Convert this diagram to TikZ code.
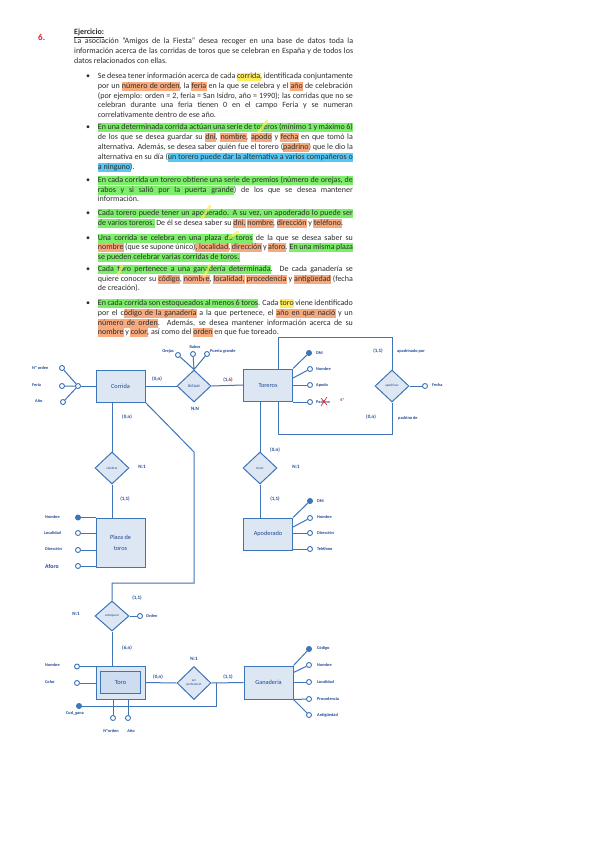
\documentclass[tikz,border=0pt]{standalone}
\usepackage{fontspec}
\setmainfont{Carlito}
\usetikzlibrary{shapes.geometric,calc}
\definecolor{lc}{RGB}{62,116,184}
\definecolor{fc}{RGB}{221,231,243}
\definecolor{fc2}{RGB}{205,220,238}
\definecolor{tc}{RGB}{30,72,150}
\definecolor{hlg}{RGB}{125,238,105}
\definecolor{hlo}{RGB}{246,170,125}
\definecolor{hly}{RGB}{255,238,90}
\definecolor{hlc}{RGB}{85,200,245}
\definecolor{redmark}{RGB}{230,30,30}
\definecolor{txtc}{RGB}{45,45,45}
\def\hlcol{hlg}
\newcommand\hlstrut{\rule[-2.1pt]{0pt}{8.2pt}}
\newcommand\HLword[1]{\kern-0.4pt{\fboxsep=0.4pt\colorbox{\hlcol}{\hlstrut#1}}\kern-0.4pt}
\newcommand\HLsp{{\color{\hlcol}\leaders\vrule height 6.5pt depth 2.5pt\hskip\fontdimen2\font plus\fontdimen3\font minus\fontdimen4\font}}
\def\HLdo#1 #2\HLstop{\HLword{#1}\HLnext#2\HLstop}
\def\HLnext#1\HLstop{\ifx\relax#1\relax\else\HLsp\HLdo#1\HLstop\fi}
\newcommand\HG[1]{{\def\hlcol{hlg}\HLdo#1 \HLstop}}
\newcommand\HO[1]{{\def\hlcol{hlo}\HLdo#1 \HLstop}}
\newcommand\HY[1]{{\def\hlcol{hly}\HLdo#1 \HLstop}}
\newcommand\HC[1]{{\def\hlcol{hlc}\HLdo#1 \HLstop}}
\newcommand\PL[3]{\node[txt] (#1) at (74,#2) {\makebox[279pt][s]{#3}};}
\newcommand\BL[3]{\node[txt] (#1) at (97.7,#2) {\makebox[255pt][s]{#3}};}
\newcommand\BLG[3]{\node[txt] (#1) at (97.3,#2) {{\fboxsep=0.4pt\colorbox{hlg}{\hlstrut\makebox[255pt][s]{#3}}}};}
\newcommand\LL[4]{\node[txt] (#1) at (#2,#3) {#4};}
\newcommand\BU[2]{\node[txt,anchor=base] (#1) at (88,#2) {•};}
\tikzset{
  txt/.style={anchor=base west, inner sep=0, font=\fontsize{8}{10}\selectfont, text=txtc},
  ln/.style={draw=lc, line width=1pt},
  ent/.style={draw=lc, fill=fc, line width=1pt, minimum width=49pt, minimum height=32pt, inner sep=0, font=\fontsize{6.3}{7}\selectfont, text=tc},
  rel/.style={diamond, draw=lc, fill=fc, line width=1pt, minimum width=34pt, minimum height=32pt, inner sep=0, font=\fontsize{3.4}{3.8}\selectfont, text=tc},
  att/.style={circle, draw=lc, fill=white, line width=0.9pt, minimum size=5pt, inner sep=0},
  katt/.style={att, fill=lc},
  lab/.style={font=\fontsize{4.3}{4.8}\selectfont\bfseries, text=tc, inner sep=0},
  card/.style={font=\fontsize{5}{5.5}\selectfont\bfseries, text=tc, inner sep=0},
  ymark/.style={draw=hly, line width=2.6pt, line cap=round, opacity=0.75},
}
\begin{document}
\begin{tikzpicture}[x=1pt,y=-1pt]
\useasboundingbox (0,0) rectangle (600,848);
\fill[white] (0,0) rectangle (600,848);

% ---------------- text ----------------
\node[txt, font=\fontsize{9}{10}\selectfont\bfseries, text=redmark] (six) at (38,41) {6.};
\LL{ej}{74}{34.6}{\textbf{\underline{Ejercicio:}}}
\PL{p1}{44}{La asociación "Amigos de la Fiesta" desea recoger en una base de datos toda la}
\PL{p2}{54}{información acerca de las corridas de toros que se celebran en España y de todos los}
\LL{p3}{74}{64}{datos relacionados con ellas.}

\BU{u1}{79}
\BL{b1a}{79}{Se desea tener información acerca de cada \HY{corrida}, identificada conjuntamente}
\BL{b1b}{88.6}{por un \HO{número de orden}, la \HO{feria} en la que se celebra y el \HO{año} de celebración}
\BL{b1c}{98.2}{(por ejemplo: orden = 2, feria = San Isidro, año = 1990); las corridas que no se}
\BL{b1d}{107.8}{celebran durante una feria tienen 0 en el campo Feria y se numeran}
\LL{b1e}{97.7}{117.4}{correlativamente dentro de ese año.}

\BU{u2}{129.3}
\BLG{b2a}{129.3}{En una determinada corrida actúan una serie de toreros (mínimo 1 y máximo 6)}
\BL{b2b}{139.3}{de los que se desea guardar su \HO{dni}, \HO{nombre}, \HO{apodo} y \HO{fecha} en que tomó la}
\BL{b2c}{149.3}{alternativa. Además, se desea saber quién fue el torero (\HO{padrino}) que le dio la}
\BL{b2d}{159.3}{alternativa en su día (\HC{un torero puede dar la alternativa a varios compañeros o}}
\LL{b2e}{97.7}{169.1}{\HC{a ninguno}).}

\BU{u3}{182.3}
\BLG{b3a}{182.3}{En cada corrida un torero obtiene una serie de premios (número de orejas, de}
\BL{b3b}{192.3}{\HG{rabos y si salió por la puerta grande}) de los que se desea mantener}
\LL{b3c}{97.7}{201.8}{información.}

\BU{u4}{215.6}
\BLG{b4a}{215.6}{Cada torero puede tener un apoderado. A su vez, un apoderado lo puede ser}
\LL{b4b}{97.7}{225.1}{\HG{de varios toreros.} De él se desea saber su \HO{dni,} \HO{nombre}, \HO{dirección} y \HO{teléfono}.}

\BU{u5}{240}
\BL{b5a}{240}{\HG{Una corrida se celebra en una plaza de toros} de la que se desea saber su}
\BL{b5b}{249.5}{\HO{nombre} (que se supone único)\HO{, localidad}, \HO{dirección} y \HO{aforo}. \HG{En una misma plaza}}
\LL{b5c}{97.7}{259}{\HG{se pueden celebrar varias corridas de toros.}}

\BU{u6}{271.6}
\BL{b6a}{271.6}{\HG{Cada toro pertenece a una ganadería determinada}. De cada ganadería se}
\BL{b6b}{281.3}{quiere conocer su \HO{código}, \HO{nombre}, \HO{localidad,} \HO{procedencia} y \HO{antigüedad} (fecha}
\LL{b6c}{97.7}{290.8}{de creación).}

\BU{u7}{305}
\BL{b7a}{305}{\HG{En cada corrida son estoqueados al menos 6 toros}. Cada \HY{toro} viene identificado}
\BL{b7b}{315.3}{por el c\HO{ódigo de la ganadería} a la que pertenece, el \HO{año en que nació} y un}
\BL{b7c}{325}{\HO{número de orden}. Además, se desea mantener información acerca de su}
\LL{b7d}{97.7}{334.6}{\HO{nombre} y \HO{color}, así como del \HO{orden} en que fue toreado.}

% yellow pen marks
\draw[ymark] (258,133) -- (267,121);
\draw[ymark] (202,218) -- (210,206);
\draw[ymark] (229,238) -- (238,232);
\draw[ymark] (118,275) -- (122,266);
\draw[ymark] (204,277) -- (210,265);

% ---------------- diagram ----------------
\node[ent] (corrida) at (120.5,386) {Corrida};
\node[rel, font=\fontsize{4.6}{5}\selectfont] (actuar) at (194,386) {Actuar};
\node[ent] (toreros) at (268,385) {Toreros};
\node[rel] (apadrinar) at (392,386) {apadrinar};
\node[rel] (celebrar) at (112,468) {celebrar};
\node[rel] (tener) at (260,468) {tener};
\node[ent, minimum height=49pt, align=center] (plaza) at (120.5,542.5) {Plaza de\\[4pt]toros};
\node[ent] (apoderado) at (268,534) {Apoderado};
\node[rel, minimum height=30pt] (estoquear) at (112,616) {estoquear};
\node[ent, minimum height=33pt] (toro) at (120.5,682.5) {};
\node[draw=lc, fill=fc2, line width=1pt, minimum width=40pt, minimum height=22pt, inner sep=0, font=\fontsize{6.3}{7}\selectfont, text=tc] (toroin) at (120.5,682.5) {Toro};
\node[rel, minimum height=33pt, align=center] (pertenecer) at (194,683) {ser\\[1pt]pertenecer};
\node[ent, minimum height=33pt] (ganaderia) at (268.5,682.5) {Ganadería};

% Corrida attributes
\node[att] (cj) at (78,386) {};
\node[att] (cnum) at (62,368) {};
\node[att] (cfer) at (62,386) {};
\node[att] (cano) at (63,402) {};
\draw[ln] (cj) -- (corrida.west);
\draw[ln] (cnum) -- (cj) (cfer) -- (cj) (cano) -- (cj);
\node[lab, anchor=west] (lcnum) at (32,368) {Nº orden};
\node[lab, anchor=west] (lcfer) at (32,385) {Feria};
\node[lab, anchor=west] (lcano) at (35,401) {Año};

% Actuar
\draw[ln] (corrida.east) -- (actuar.west);
\draw[ln] (actuar.east) -- (toreros.west);
\node[att] (aor) at (178,355) {};
\node[att] (ara) at (193,354) {};
\node[att] (apu) at (207,354) {};
\draw[ln] (aor) -- (actuar.north) (ara) -- (actuar.north) (apu) -- (actuar.north);
\node[lab, anchor=east] (laor) at (174,351) {Orejas};
\node[lab, anchor=south] (lara) at (195,348.5) {Rabos};
\node[lab, anchor=west] (lapu) at (210,351) {Puerta grande};
\node[card] (c1) at (157,379) {(0,n)};
\node[card] (c2) at (228,380) {(1,\textcolor{redmark}{6})};
\node[card] (c3) at (195,409) {N:N};

% Toreros attributes
\node[katt] (tdni) at (309,353) {};
\node[att] (tnom) at (310,369) {};
\node[att] (tapo) at (310,385) {};
\node[att] (tpad) at (310,402) {};
\draw[ln] (toreros.north east) -- (tdni);
\draw[ln] ([yshift=7pt]toreros.east) -- (tnom);
\draw[ln] (toreros.east) -- (tapo);
\draw[ln] (tpad -| toreros.east) -- (tpad);
\node[lab, anchor=west] (ltdni) at (316,353) {DNI};
\node[lab, anchor=west] (ltnom) at (316,369) {Nombre};
\node[lab, anchor=west] (ltapo) at (316,385) {Apodo};
\node[lab, anchor=west] (ltpad) at (316,402) {Padrino};
\draw[redmark, line width=0.6pt] (321,398) -- (327,405) (327,397) -- (321,406);
\node[lab, text=redmark, anchor=west] (l4a) at (340,400) {4ª};

% apadrinar loop
\draw[ln] ([xshift=10pt]toreros.north) -- ++(0,-31) -| (apadrinar.north);
\draw[ln] ([xshift=10pt]toreros.south) -- ++(0,33) -| (apadrinar.south);
\node[att] (fecha) at (425,386) {};
\draw[ln] (apadrinar.east) -- (fecha);
\node[lab, anchor=west] (lfecha) at (432,385) {Fecha};
\node[card] (c4) at (378,351) {(1,1)};
\node[lab, anchor=west] (lapby) at (397,351) {apadrinado por};
\node[card] (c5) at (371,417) {(0,n)};
\node[lab, anchor=west] (lpade) at (398,418) {padrino de};

% celebrar / Plaza
\draw[ln] (celebrar.north) -- (celebrar.north |- corrida.south);
\draw[ln] (celebrar.south) -- (celebrar.south |- plaza.north);
\node[card] (c6) at (127,417) {(0,n)};
\node[card] (c7) at (142,467) {N:1};
\node[card] (c8) at (125,499) {(1,1)};
\node[katt] (pnom) at (78,517.5) {};
\node[att] (ploc) at (78,533) {};
\node[att] (pdir) at (78,550) {};
\node[att] (pafo) at (78,566) {};
\draw[ln] (pnom) -- (pnom -| plaza.west);
\draw[ln] (ploc) -- (ploc -| plaza.west);
\draw[ln] (pdir) -- (pdir -| plaza.west);
\draw[ln] (pafo) -- (pafo -| plaza.west);
\node[lab, anchor=west] (lpnom) at (45,517) {Nombre};
\node[lab, anchor=west] (lploc) at (44,533) {Localidad};
\node[lab, anchor=west] (lpdir) at (45,549) {Dirección};
\node[lab, anchor=west, font=\fontsize{5.8}{6}\selectfont\bfseries] (lpafo) at (45,566) {Aforo};

% tener / Apoderado
\draw[ln] (tener.north) -- (tener.north |- toreros.south);
\draw[ln] (tener.south) -- (tener.south |- apoderado.north);
\node[card] (c9) at (275,450) {(0,n)};
\node[card] (c10) at (296,467) {N:1};
\node[card] (c11) at (275,499) {(1,1)};
\node[katt] (adni) at (310,501) {};
\node[att] (anom) at (310,518) {};
\node[att] (adir) at (310,533) {};
\node[att] (atel) at (310,549) {};
\draw[ln] (apoderado.north east) -- (adni);
\draw[ln] ([yshift=7pt]apoderado.east) -- (anom);
\draw[ln] (adir -| apoderado.east) -- (adir);
\draw[ln] (atel -| apoderado.east) -- (atel);
\node[lab, anchor=west] (ladni) at (317,501) {DNI};
\node[lab, anchor=west] (lanom) at (317,517) {Nombre};
\node[lab, anchor=west] (ladir) at (317,533) {Dirección};
\node[lab, anchor=west] (latel) at (317,549) {Teléfono};

% estoquear
\coordinate (k1) at (194,452);
\coordinate (k2) at (194,583);
\draw[ln] (corrida.south east) -- (k1) -- (k2) -| (estoquear.north);
\draw[ln] (estoquear.south) -- (estoquear.south |- toro.north);
\node[att] (eord) at (140,616) {};
\draw[ln] (estoquear.east) -- (eord);
\node[lab, anchor=west] (leord) at (146,615.5) {Orden};
\node[card] (c12) at (76,614) {N:1};
\node[card] (c13) at (137,598) {(1,1)};
\node[card] (c14) at (127,648) {(6,n)};

% Toro attributes
\node[att] (rnom) at (77,666.5) {};
\node[att] (rcol) at (77,683) {};
\draw[ln] (rnom) -- (rnom -| toro.west);
\draw[ln] (rcol) -- (rcol -| toro.west);
\node[lab, anchor=west] (lrnom) at (45,665) {Nombre};
\node[lab, anchor=west] (lrcol) at (45,682) {Color};
\node[katt] (rid) at (79,706) {};
\coordinate (k3) at (216,706);
\draw[ln] (rid) -- (k3) -- (k3 |- pertenecer.east);
\node[lab] (lrid) at (75,713.5) {Cod\_gana};
\node[att] (rnum) at (113,718) {};
\node[att] (rano) at (128,718) {};
\draw[ln] (rnum) -- (rnum |- toro.south);
\draw[ln] (rano) -- (rano |- toro.south);
\node[lab] (lrnum) at (111,731) {Nºorden};
\node[lab] (lrano) at (131,731) {Año};

% pertenecer / Ganaderia
\draw[ln] (toro.east) -- (pertenecer.west);
\draw[ln] (pertenecer.east) -- (ganaderia.west);
\node[card] (c15) at (194,659) {N:1};
\node[card] (c16) at (158,677) {(0,n)};
\node[card] (c17) at (228,677) {(1,1)};
\node[katt] (gcod) at (309,649) {};
\node[att] (gnom) at (309,665) {};
\node[att] (gloc) at (309,682) {};
\node[att] (gpro) at (309,699) {};
\node[att] (gant) at (309,715) {};
\draw[ln] (ganaderia.north east) -- (gcod);
\draw[ln] ([yshift=10pt]ganaderia.east) -- (gnom);
\draw[ln] (gloc -| ganaderia.east) -- (gloc);
\draw[ln] (ganaderia.south east) -- (gpro);
\draw[ln] (ganaderia.south east) -- (gant);
\node[lab, anchor=west] (lgcod) at (317,648.5) {Código};
\node[lab, anchor=west] (lgnom) at (317,664.5) {Nombre};
\node[lab, anchor=west] (lgloc) at (317,681.5) {Localidad};
\node[lab, anchor=west] (lgpro) at (317,698.5) {Procedencia};
\node[lab, anchor=west] (lgant) at (317,715) {Antigüedad};
\end{tikzpicture}
\end{document}
